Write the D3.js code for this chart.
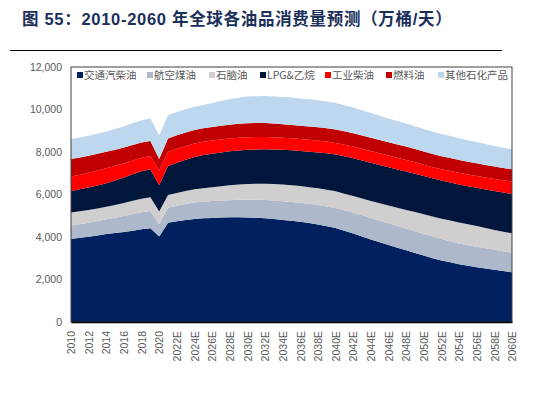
<!DOCTYPE html>
<html>
<head>
<meta charset="utf-8">
<script src="https://cdn.jsdelivr.net/npm/d3@7"></script>
<style>
	body { margin: 0; background: #FFFFFF; }
	svg { display: block; }
</style>
</head>
<body>
<div id="chart"></div>
<script>

	// years 2010..2060, projections carry an "E"
	const years = d3.range(2010, 2061);
	const yTicks = [0, 2000, 4000, 6000, 8000, 10000, 12000];

	const seriesNames = ['交通汽柴油','航空煤油','石脑油','LPG&乙烷','工业柴油','燃料油','其他石化产品'];
	const seriesColors = ['#002060','#ADB9CA','#D0CECE','#00163A','#FF0000','#C00000','#BDD7EE'];

	const roadFuel = [3910,3960,4010,4070,4140,4190,4240,4300,4360,4410,4020,4670,4740,4800,4850,4880,4900,4915,4925,4930,
		4920,4905,4880,4845,4805,4760,4715,4655,4585,4505,4420,4290,4160,4020,3880,3750,3625,3500,3375,3250,
		3125,3005,2900,2810,2720,2645,2580,2515,2455,2395,2340];
	const jetFuel = [627,645,665,680,695,720,750,780,805,816,580,705,730,750,770,781,790,800,810,820,
		830,845,860,870,880,890,895,905,920,935,945,965,985,1005,1015,1020,1020,1020,1020,1020,
		1020,1015,1005,995,980,970,960,950,940,930,925];
	const naphtha = [612,605,600,595,593,600,610,625,638,642,596,597,605,615,625,631,650,675,700,725,
		750,760,768,775,780,783,785,785,785,785,785,785,785,785,800,815,835,855,880,905,
		925,940,955,970,985,988,975,960,940,925,911];
	const lpgEthane = [1020,1040,1060,1080,1101,1150,1200,1250,1295,1318,1239,1364,1420,1475,1525,1567,1580,1590,1597,1600,
		1602,1610,1620,1630,1640,1645,1650,1670,1690,1715,1730,1755,1775,1795,1804,1805,1805,1805,1805,1805,
		1805,1804,1800,1795,1790,1790,1800,1815,1828,1840,1850];
	const industrialDiesel = [674,680,690,700,706,690,670,650,635,628,690,675,660,645,635,626,618,610,602,596,
		594,588,582,576,570,566,564,558,553,550,549,549,549,549,549,549,549,549,545,535,
		525,520,525,535,545,552,558,565,570,575,580];
	const fuelOil = [832,815,800,790,781,760,740,720,710,706,549,627,630,632,632,631,635,642,650,656,
		660,655,650,643,636,632,628,627,627,627,627,627,628,628,628,628,628,628,628,627,
		627,627,620,610,600,595,592,589,586,583,581];
	const otherPetchem = [941,940,940,940,941,970,1000,1030,1055,1066,1098,1098,1098,1097,1096,1096,1130,1165,1200,1230,
		1255,1265,1272,1278,1282,1285,1285,1280,1272,1262,1250,1230,1210,1185,1160,1140,1120,1100,1085,1070,
		1060,1051,1043,1035,1025,1018,1000,980,962,950,941];

	const seriesValues = [roadFuel, jetFuel, naphtha, lpgEthane, industrialDiesel, fuelOil, otherPetchem];

	function yearLabel(y){
		return y <= 2020 ? String(y) : y + 'E';
	}

	let rows = years.map(function(y, i){
		let row = { year: y };
		seriesNames.forEach(function(name, k){
			row[name] = seriesValues[k][i];
		});
		return row;
	});

	const width = 546;
	const height = 397;
	const margin = { top: 67, right: 34, bottom: 75, left: 71 };

	let svg = d3.select('#chart')
		.append('svg')
		.attr('width', width)
		.attr('height', height);

	// title + rule
	svg.append('text')
		.attr('x', 22)
		.attr('y', 25)
		.attr('font-family', '"Liberation Sans", "Noto Sans CJK SC", sans-serif')
		.attr('font-size', 16.5)
		.attr('font-weight', 'bold')
		.attr('letter-spacing', 0.7)
		.attr('fill', '#1B2F5B')
		.text('图 55：2010-2060 年全球各油品消费量预测（万桶/天）');

	svg.append('line')
		.attr('x1', 10)
		.attr('x2', 502)
		.attr('y1', 50.5)
		.attr('y2', 50.5)
		.attr('stroke', '#000000')
		.attr('stroke-width', 1);

	let xScale = d3.scaleLinear()
		.domain([2010, 2060])
		.range([margin.left, width - margin.right]);

	let yScale = d3.scaleLinear()
		.domain([0, 12000])
		.range([height - margin.bottom, margin.top]);

	let stack = d3.stack().keys(seriesNames);
	let layers = stack(rows);

	let area = d3.area()
		.x(function(d){ return xScale(d.data.year); })
		.y0(function(d){ return yScale(d[0]); })
		.y1(function(d){ return yScale(d[1]); });

	svg.append('g')
		.selectAll('path')
		.data(layers)
		.enter()
		.append('path')
		.attr('d', area)
		.attr('fill', function(d, i){ return seriesColors[i]; });

	// plot frame
	svg.append('rect')
		.attr('x', margin.left)
		.attr('y', margin.top)
		.attr('width', width - margin.left - margin.right)
		.attr('height', height - margin.top - margin.bottom)
		.attr('fill', 'none')
		.attr('stroke', '#404040')
		.attr('stroke-width', 1);

	let yAxis = d3.axisLeft(yScale)
		.tickValues(yTicks)
		.tickSize(0)
		.tickPadding(9)
		.tickFormat(d3.format(','));

	let gy = svg.append('g')
		.attr('transform', 'translate(' + margin.left + ',0)')
		.call(yAxis);
	gy.select('.domain').remove();
	gy.selectAll('text')
		.attr('font-family', '"Liberation Sans", sans-serif')
		.attr('font-size', 10.5)
		.attr('fill', '#595959');

	let xAxis = d3.axisBottom(xScale)
		.tickValues(years.filter(function(y){ return y % 2 === 0; }))
		.tickSize(0)
		.tickFormat(yearLabel);

	let gx = svg.append('g')
		.attr('transform', 'translate(0,' + (height - margin.bottom) + ')')
		.call(xAxis);
	gx.select('.domain')
		.attr('stroke', '#000000')
		.attr('stroke-width', 1.5);
	gx.selectAll('text')
		.attr('font-family', '"Liberation Sans", sans-serif')
		.attr('font-size', 10.5)
		.attr('fill', '#595959')
		.attr('text-anchor', 'end')
		.attr('transform', 'rotate(-90)')
		.attr('x', -9)
		.attr('y', 0)
		.attr('dy', '0.35em');

	// legend inside the top of the frame
	const legendX = [77, 147, 209, 260, 325, 386, 438];
	let legend = svg.append('g');
	seriesNames.forEach(function(name, i){
		legend.append('rect')
			.attr('x', legendX[i])
			.attr('y', 72)
			.attr('width', 6)
			.attr('height', 6)
			.attr('fill', seriesColors[i]);
		legend.append('text')
			.attr('x', legendX[i] + 7)
			.attr('y', 79)
			.attr('font-family', '"Noto Sans CJK SC", sans-serif')
			.attr('font-size', 10.5)
			.attr('fill', '#595959')
			.text(name);
	});

</script>
</body>
</html>
